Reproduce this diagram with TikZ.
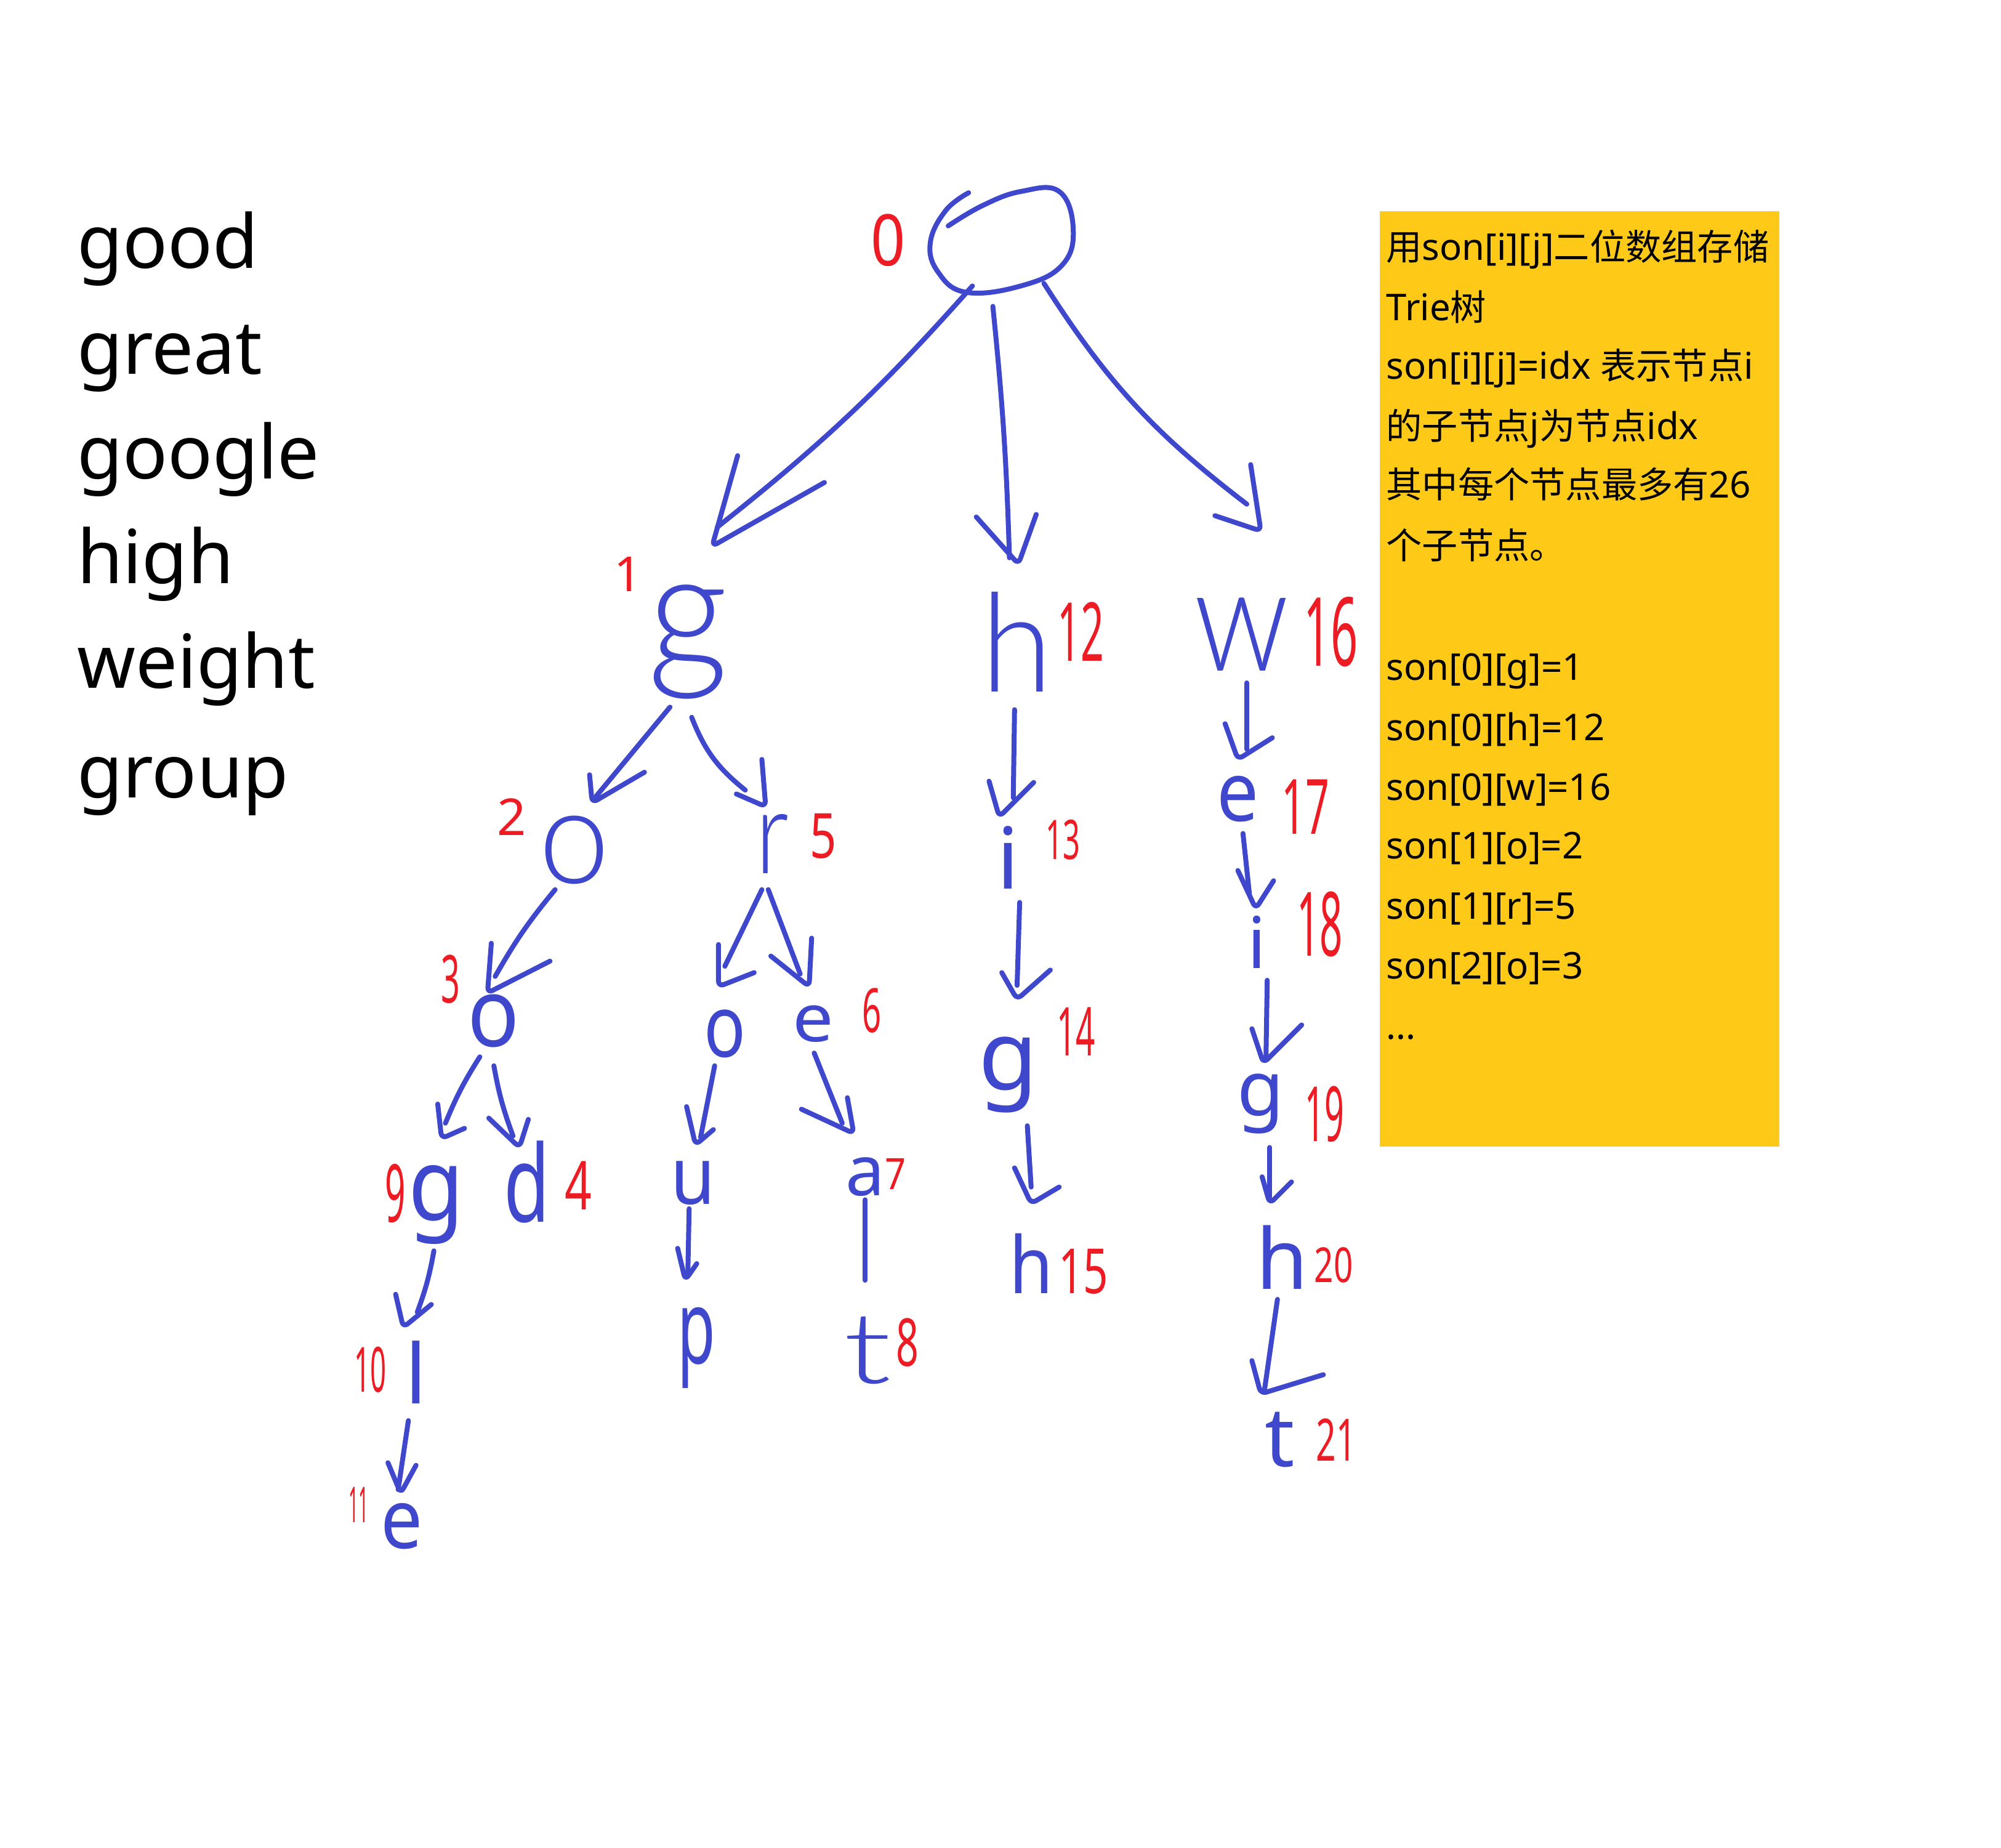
\documentclass[tikz,border=0pt]{standalone}
\usepackage{fontspec}
\setmainfont{Noto Sans}
\newfontfamily\cjk{Noto Sans CJK SC}
\newfontfamily\thin[UprightFont=* Light]{Lato}
\definecolor{inkblue}{RGB}{63,72,204}
\definecolor{inkred}{RGB}{237,28,36}
\definecolor{notegold}{RGB}{255,201,23}
\newdimen\uu \uu=0.56693pt
\newcommand{\fsz}[1]{\fontsize{#1\uu}{#1\uu}\selectfont}
\newcommand{\cj}[1]{{\cjk\fsz{28.2}#1}}
% letter / number node: style, name, position, size, x-squeeze, text
\newcommand{\hw}[6]{\node[#1] (#2) at (#3) {\scalebox{#5}[1]{\fsz{#4}#6}};}
% connector: parent, start shift, child, end shift, bend, tip shift, barb 1, barb 2
\newcommand{\hedge}[8]{%
  \draw[inkline] ([shift={(#2)}]#1.center) to[bend left=#5] ([shift={(#4)}]#3.center);%
  \draw[inkline,rounded corners=2.5pt] ([shift={(#6)}]#3.center) +(#7) -- +(0,0) -- +(#8);}
\tikzset{
  x=0.02cm,y=-0.02cm,
  letter/.style={inner sep=0,outer sep=0,text=inkblue},
  bigletter/.style={inner sep=0,outer sep=0,text=inkblue,font=\thin},
  idx/.style={inner sep=0,outer sep=0,text=inkred},
  inkline/.style={draw=inkblue,line width=2.2pt,line cap=round,line join=round},
  word/.style={inner sep=0,anchor=base west,font=\fsz{58.5}},
  noteline/.style={inner sep=0,anchor=base west,font=\fsz{29}},
}
\begin{document}
\begin{tikzpicture}
\useasboundingbox (0,0) rectangle (1568,1447.4);
% word list
\node[word] (w1) at (60,210) {good};
\node[word] (w2) at (60,293) {great};
\node[word] (w3) at (60,375) {google};
\node[word] (w4) at (60,457) {high};
\node[word] (w5) at (60,539) {weight};
\node[word] (w6) at (60,625) {group};
% note
\node[fill=notegold,inner sep=0,anchor=north west,minimum width=313*0.02cm,minimum height=733*0.02cm] (note) at (1081,165) {};
\node[noteline] (t1) at (1086,204) {\cj{用}son[i][j]\cj{二位数组存储}};
\node[noteline] (t2) at (1086,251) {Trie\cj{树}};
\node[noteline] (t3) at (1086,297) {son[i][j]=idx \cj{表示节点}i};
\node[noteline] (t4) at (1086,344) {\cj{的子节点}j\cj{为节点}idx};
\node[noteline] (t5) at (1086,390) {\cj{其中每个节点最多有}26};
\node[noteline] (t6) at (1086,438) {\cj{个子节点。}};
\node[noteline] (t7) at (1086,533) {son[0][g]=1};
\node[noteline] (t8) at (1086,580) {son[0][h]=12};
\node[noteline] (t9) at (1086,627) {son[0][w]=16};
\node[noteline] (t10) at (1086,673) {son[1][o]=2};
\node[noteline] (t11) at (1086,720) {son[1][r]=5};
\node[noteline] (t12) at (1086,767) {son[2][o]=3};
\node[noteline] (t13) at (1086,814) {...};
% root
\coordinate (root) at (785,190);
\draw[inkline] plot[smooth,tension=0.7] coordinates {(743,177) (770,161) (800,150) (830,150) (841,180) (832,208) (800,224) (757,229) (735,213) (729,190) (741,165) (759,151)};
% letters
\hw{bigletter}{g1}{539,503}{130}{0.95}{g}
\hw{bigletter}{h12}{797,503}{108}{0.95}{h}
\hw{bigletter}{w16}{973,497}{115}{0.85}{w}
\hw{bigletter}{o2}{450,666}{105}{0.95}{o}
\hw{bigletter}{r5}{605,661}{92}{0.8}{r}
\hw{letter}{o3}{387,800}{75}{0.9}{o}
\hw{letter}{g9}{342,944}{79}{0.9}{g}
\hw{letter}{d4}{413,926}{84}{0.7}{d}
\hw{letter}{orr}{568,810}{68}{0.8}{o}
\hw{letter}{e6}{637,802}{52}{1.1}{e}
\hw{letter}{u}{543,927}{63}{0.9}{u}
\hw{letter}{a7}{678,922}{55}{1}{a}
\hw{letter}{l10}{326,1075}{65}{1}{l}
\hw{letter}{e11}{315,1196}{65}{0.9}{e}
\hw{letter}{p}{546,1056}{81}{0.6}{p}
\hw{bigletter}{t8}{680,1058}{78}{1.4}{t}
\hw{letter}{i13}{790,672}{67}{1}{i}
\hw{letter}{g14}{790,842}{76}{1}{g}
\hw{letter}{h15}{808,990}{62}{0.9}{h}
\hw{letter}{e17}{970,626}{65}{0.9}{e}
\hw{letter}{i18}{985,738}{56}{1}{i}
\hw{letter}{g19}{988,865}{60}{1}{g}
\hw{letter}{h20}{1005,985}{66}{1}{h}
\hw{letter}{t21}{1003,1128}{65}{1}{t}
% numbers
\hw{idx}{n0}{696,188}{56}{0.85}{0}
\hw{idx}{n1}{492,450}{38}{1}{1}
\hw{idx}{n12}{847,495}{64}{0.5}{12}
\hw{idx}{n16}{1043,495}{75}{0.5}{16}
\hw{idx}{n2}{401,640}{40}{1}{2}
\hw{idx}{n5}{645,655}{49}{0.75}{5}
\hw{idx}{n3}{353,767}{52}{0.5}{3}
\hw{idx}{n9}{310,935}{63}{0.45}{9}
\hw{idx}{n4}{453,929}{53}{0.7}{4}
\hw{idx}{n6}{683,792}{48}{0.55}{6}
\hw{idx}{n7}{702,920}{34}{0.85}{7}
\hw{idx}{n8}{711,1052}{52}{0.6}{8}
\hw{idx}{n10}{290,1073}{49}{0.45}{10}
\hw{idx}{n11}{281,1179}{39}{0.35}{11}
\hw{idx}{n13}{833,658}{43}{0.55}{13}
\hw{idx}{n14}{843,808}{53}{0.5}{14}
\hw{idx}{n15}{849,996}{49}{0.7}{15}
\hw{idx}{n17}{1023,632}{60}{0.55}{17}
\hw{idx}{n18}{1034,724}{70}{0.45}{18}
\hw{idx}{n19}{1038,873}{60}{0.45}{19}
\hw{idx}{n20}{1045,991}{38}{0.7}{20}
\hw{idx}{n21}{1047,1128}{46}{0.6}{21}
% connectors
\hedge{root}{-23,34}{g1}{23,-90}{5}{19,-75}{20,-71}{88,-50}
\hedge{root}{-7,50}{h12}{-6,-66}{2}{1,-61}{-33,-37}{14,-39}
\hedge{root}{33,32}{w16}{4,-102}{-10}{15,-81}{-8,-52}{-36,-12}
\hedge{g1}{-14,51}{o2}{17,-42}{0}{14,-37}{-2,-22}{41,-24}
\hedge{g1}{3,59}{r5}{-21,-42}{-15}{-5,-29}{-3,-37}{-23,-10}
\hedge{o2}{-15,31}{o3}{1,-35}{-5}{-5,-22}{3,-39}{49,-25}
\hedge{r5}{-8,36}{orr}{0,-53}{0}{-5,-37}{0,-33}{28,-11}
\hedge{r5}{-3,36}{e6}{-10,-39}{0}{-3,-29}{2,-38}{-30,-24}
\hedge{o3}{-11,28}{g9}{7,-64}{-5}{4,-52}{-3,-27}{18,-8}
\hedge{o3}{0,35}{d4}{-11,-36}{-5}{-6,-27}{-24,-23}{7,-22}
\hedge{orr}{-8,25}{u}{6,-36}{0}{2,-30}{-7,-30}{14,-12}
\hedge{e6}{1,23}{a7}{-18,-42}{0}{-9,-34}{-5,-28}{-41,-19}
\draw[inkline] ([shift={(0,18)}]a7.center) -- ([shift={(-2,-55)}]t8.center);
\hedge{u}{-3,20}{p}{-7,-59}{0}{-9,-53}{-6,-25}{9,-13}
\hedge{g9}{-2,36}{l10}{1,-47}{5}{-10,-35}{-6,-26}{22,-18}
\hedge{l10}{-6,38}{e11}{-3,-29}{0}{-1,-26}{-10,-24}{12,-22}
\hedge{h12}{-2,53}{i13}{4,-47}{0}{-7,-32}{-8,-28}{27,-27}
\hedge{i13}{9,35}{g14}{7,-70}{0}{7,-59}{-12,-21}{26,-23}
\hedge{g14}{15,40}{h15}{0,-60}{0}{0,-47}{-13,-28}{22,-13}
\hedge{w16}{4,38}{e17}{7,-39}{0}{0,-31}{-10,-28}{27,-17}
\hedge{e17}{4,27}{i18}{-6,-38}{0}{-1,-26}{-14,-30}{14,-22}
\hedge{i18}{8,30}{g19}{4,-35}{0}{2,-32}{-9,-27}{30,-30}
\hedge{g19}{7,34}{h20}{-10,-47}{0}{-10,-42}{-6,-21}{17,-17}
\hedge{h20}{-4,33}{t21}{-12,-40}{0}{-15,-36}{-7,-26}{49,-15}
\end{tikzpicture}
\end{document}
